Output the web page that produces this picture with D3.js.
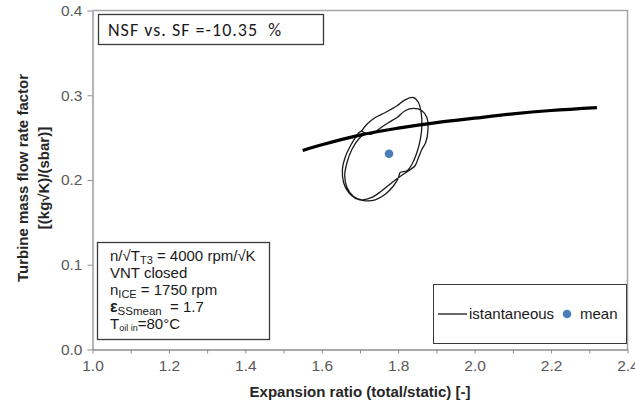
<!DOCTYPE html>
<html lang="en">
<head>
	<meta charset="utf-8" />
	<title>turbine map</title>
	<script src="https://cdnjs.cloudflare.com/ajax/libs/d3/7.8.5/d3.min.js"></script>
	<style>
		body { margin: 0; background: #fff; }
		svg { font-family: "Liberation Sans", Arial, sans-serif; display: block; }
	</style>
</head>
<body>
	<svg width="635" height="405"></svg>
	<script>
		// steady flow curve (thick)
		let steadyX = [1.55, 1.60, 1.70, 1.80, 1.90, 2.00, 2.10, 2.20, 2.32];
		let steadyY = [0.2348, 0.2415, 0.2530, 0.2612, 0.2678, 0.2730, 0.2780, 0.2820, 0.2855];

		// istantaneous loop (two cycles)
		let loopX = [1.703, 1.718, 1.740, 1.766, 1.797, 1.818, 1.840, 1.853, 1.860, 1.862, 1.858, 1.849, 1.836, 1.823, 1.805, 1.801, 1.788, 1.766, 1.740, 1.714, 1.688, 1.670, 1.657, 1.654, 1.661, 1.675, 1.688, 1.701,
			1.722, 1.735, 1.749, 1.775, 1.797, 1.818, 1.840, 1.862, 1.875, 1.878, 1.872, 1.862, 1.853, 1.844, 1.827, 1.805, 1.784, 1.757, 1.731, 1.705, 1.683, 1.666, 1.660, 1.666, 1.679, 1.696, 1.712];
		let loopY = [0.2570, 0.2658, 0.2737, 0.2796, 0.2876, 0.2946, 0.2973, 0.2914, 0.2796, 0.2640, 0.2481, 0.2324, 0.2186, 0.2109, 0.2088, 0.2029, 0.1932, 0.1832, 0.1766, 0.1755, 0.1782, 0.1853, 0.1971, 0.2127, 0.2265, 0.2404, 0.2501, 0.2572,
			0.2540, 0.2549, 0.2599, 0.2678, 0.2737, 0.2817, 0.2844, 0.2817, 0.2737, 0.2599, 0.2442, 0.2363, 0.2265, 0.2168, 0.2109, 0.2041, 0.1971, 0.1873, 0.1794, 0.1766, 0.1805, 0.1912, 0.2050, 0.2206, 0.2363, 0.2481, 0.2545];

		let meanX = [1.776];
		let meanY = [0.231];

		let xTicks = [1.0, 1.1, 1.2, 1.3, 1.4, 1.5, 1.6, 1.7, 1.8, 1.9, 2.0, 2.1, 2.2, 2.3, 2.4];
		let yTicks = [0.0, 0.1, 0.2, 0.3, 0.4];

		let svg = d3.select('svg');
		let x = d3.scaleLinear().domain([1.0, 2.4]).range([92.5, 627.5]);
		let y = d3.scaleLinear().domain([0, 0.4]).range([349.5, 10.5]);

		// plot frame top/right
		svg.append('path')
			.attr('d', `M${x(1.0)},${y(0.4)}H${x(2.4)}V${y(0)}`)
			.attr('fill', 'none')
			.attr('stroke', '#a6a6a6')
			.attr('stroke-width', 1.5);

		let xAxis = svg.append('g')
			.attr('transform', `translate(0,${y(0)})`)
			.call(d3.axisBottom(x).tickValues(xTicks).tickSize(4).tickSizeOuter(0).tickPadding(6)
				.tickFormat((d, i) => i % 2 == 0 ? d3.format('.1f')(d) : ''));
		let yAxis = svg.append('g')
			.attr('transform', `translate(${x(1.0)},0)`)
			.call(d3.axisLeft(y).tickValues(yTicks).tickSize(5).tickSizeOuter(0).tickPadding(5)
				.tickFormat(d3.format('.1f')));

		[xAxis, yAxis].forEach(a => {
			a.select('.domain').attr('stroke', '#8c8c8c').attr('stroke-width', 1.3);
			a.selectAll('.tick line').attr('stroke', '#8c8c8c');
			a.selectAll('.tick text').attr('fill', '#595959').attr('font-size', 15.5)
				.attr('font-family', '"Liberation Sans", Arial, sans-serif');
		});

		// axis titles
		svg.append('text')
			.attr('x', 360).attr('y', 397)
			.attr('text-anchor', 'middle')
			.attr('font-weight', 'bold').attr('font-size', 15).attr('fill', '#262626')
			.text('Expansion ratio (total/static) [-]');
		let yt = svg.append('text')
			.attr('transform', 'translate(0,178) rotate(-90)')
			.attr('text-anchor', 'middle')
			.attr('font-weight', 'bold').attr('font-size', 15).attr('fill', '#262626');
		yt.append('tspan').attr('x', 0).attr('y', 28).text('Turbine mass flow rate factor');
		yt.append('tspan').attr('x', 0).attr('y', 49).text('[(kg√K)/(sbar)]');

		// data
		let steady = steadyX.map((d, i) => [d, steadyY[i]]);
		let loop = loopX.map((d, i) => [d, loopY[i]]);

		svg.append('path')
			.datum(loop)
			.attr('d', d3.line().x(d => x(d[0])).y(d => y(d[1])).curve(d3.curveCatmullRom.alpha(0.5)))
			.attr('fill', 'none')
			.attr('stroke', '#1a1a1a')
			.attr('stroke-width', 1.3);

		svg.append('path')
			.datum(steady)
			.attr('d', d3.line().x(d => x(d[0])).y(d => y(d[1])).curve(d3.curveMonotoneX))
			.attr('fill', 'none')
			.attr('stroke', '#000')
			.attr('stroke-width', 3.2);

		svg.selectAll('circle.mean')
			.data(meanX)
			.enter()
			.append('circle')
			.attr('class', 'mean')
			.attr('cx', d => x(d))
			.attr('cy', (d, i) => y(meanY[i]))
			.attr('r', 4.3)
			.attr('fill', '#4a7ebb');

		// NSF box
		svg.append('rect')
			.attr('x', 98.5).attr('y', 14.5).attr('width', 225).attr('height', 30)
			.attr('fill', '#fff').attr('stroke', '#3a3a3a').attr('stroke-width', 1.3);
		svg.append('text')
			.attr('x', 108).attr('y', 36)
			.attr('font-family', 'Carlito, "Open Sans", sans-serif')
			.attr('font-size', 18).attr('letter-spacing', 1).attr('fill', '#1a1a1a')
			.attr('xml:space', 'preserve')
			.text('NSF vs. SF =-10.35  %');

		// conditions box
		svg.append('rect')
			.attr('x', 97.5).attr('y', 242.5).attr('width', 172).attr('height', 97)
			.attr('fill', '#fff').attr('stroke', '#3a3a3a').attr('stroke-width', 1.3);
		let info = svg.append('text').attr('font-size', 15).attr('fill', '#1a1a1a');
		let l1 = info.append('tspan').attr('x', 110).attr('y', 261);
		l1.append('tspan').text('n/√T');
		l1.append('tspan').attr('font-size', 11).attr('dy', 3).text('T3');
		l1.append('tspan').attr('dy', -3).text(' = 4000 rpm/√K');
		info.append('tspan').attr('x', 110).attr('y', 278).text('VNT closed');
		let l3 = info.append('tspan').attr('x', 110).attr('y', 295);
		l3.append('tspan').text('n');
		l3.append('tspan').attr('font-size', 11).attr('dy', 3).text('ICE');
		l3.append('tspan').attr('dy', -3).text(' = 1750 rpm');
		let l4 = info.append('tspan').attr('x', 110).attr('y', 312);
		l4.append('tspan').attr('font-weight', 'bold').attr('font-size', 16).text('ε');
		l4.append('tspan').attr('font-size', 11.5).attr('dy', 3).text('SSmean');
		l4.append('tspan').attr('dy', -3).attr('xml:space', 'preserve').text('  = 1.7');
		let l5 = info.append('tspan').attr('x', 110).attr('y', 329);
		l5.append('tspan').text('T');
		l5.append('tspan').attr('font-size', 9).attr('dy', 2).text('oil in');
		l5.append('tspan').attr('dy', -2).text('=80°C');

		// legend
		svg.append('rect')
			.attr('x', 433.5).attr('y', 284.5).attr('width', 193).attr('height', 59)
			.attr('fill', '#fff').attr('stroke', '#3a3a3a').attr('stroke-width', 1);
		svg.append('line')
			.attr('x1', 438).attr('x2', 467).attr('y1', 314).attr('y2', 314)
			.attr('stroke', '#1a1a1a').attr('stroke-width', 1.3);
		svg.append('text')
			.attr('x', 469).attr('y', 319).attr('font-size', 15).attr('fill', '#1a1a1a')
			.text('istantaneous');
		svg.append('circle')
			.attr('cx', 567).attr('cy', 314).attr('r', 4.3).attr('fill', '#4a7ebb');
		svg.append('text')
			.attr('x', 580).attr('y', 319).attr('font-size', 15).attr('fill', '#1a1a1a')
			.text('mean');
	</script>
</body>
</html>
